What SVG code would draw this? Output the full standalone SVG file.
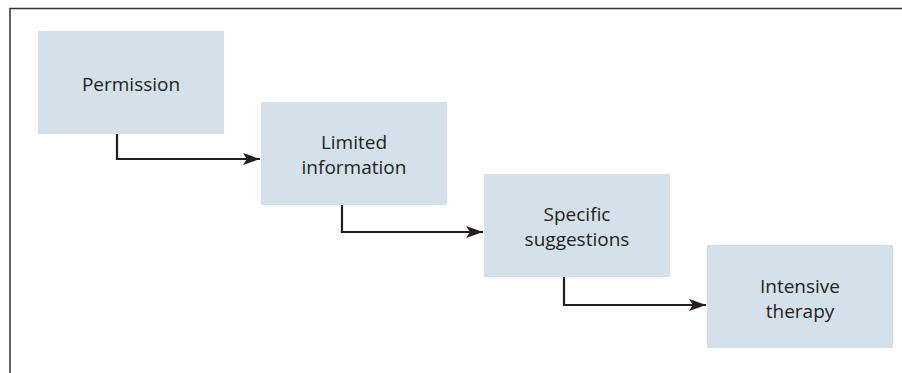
<svg xmlns="http://www.w3.org/2000/svg" width="902" height="373" viewBox="0 0 902 373">
<style>
.box{fill:#d5e1ea}
.lbl{font-family:"Open Sans","Liberation Sans",sans-serif;font-size:19px;fill:#231f20;text-anchor:middle}
.con{fill:none;stroke:#231f20;stroke-width:2.2}
.frame{fill:none;stroke:#333;stroke-width:1.5}
</style>
<defs>
<marker id="arr" markerUnits="userSpaceOnUse" markerWidth="18" markerHeight="14" refX="17" refY="7" orient="auto">
<path d="M0,1 L17,7 L0,13 L4,7 Z" fill="#231f20"/>
</marker>
</defs>
<rect width="902" height="373" fill="#fff"/>
<path class="frame" d="M10,373 V8.5 H902"/>
<g id="n1"><rect class="box" x="38" y="31" width="186" height="103"/><text class="lbl" x="131" y="91">Permission</text></g>
<g id="n2"><rect class="box" x="261" y="102" width="186" height="103"/><text class="lbl" x="354" y="149">Limited</text><text class="lbl" x="354" y="174">information</text></g>
<g id="n3"><rect class="box" x="484" y="174" width="186" height="103"/><text class="lbl" x="577" y="221">Specific</text><text class="lbl" x="577" y="246">suggestions</text></g>
<g id="n4"><rect class="box" x="707" y="245" width="186" height="103"/><text class="lbl" x="800" y="293">Intensive</text><text class="lbl" x="800" y="318">therapy</text></g>
<g id="connectors">
<path class="con" d="M117,134 V159 H260" marker-end="url(#arr)"/>
<path class="con" d="M342,205 V232 H483" marker-end="url(#arr)"/>
<path class="con" d="M564,277 V305 H706" marker-end="url(#arr)"/>
</g>
</svg>
